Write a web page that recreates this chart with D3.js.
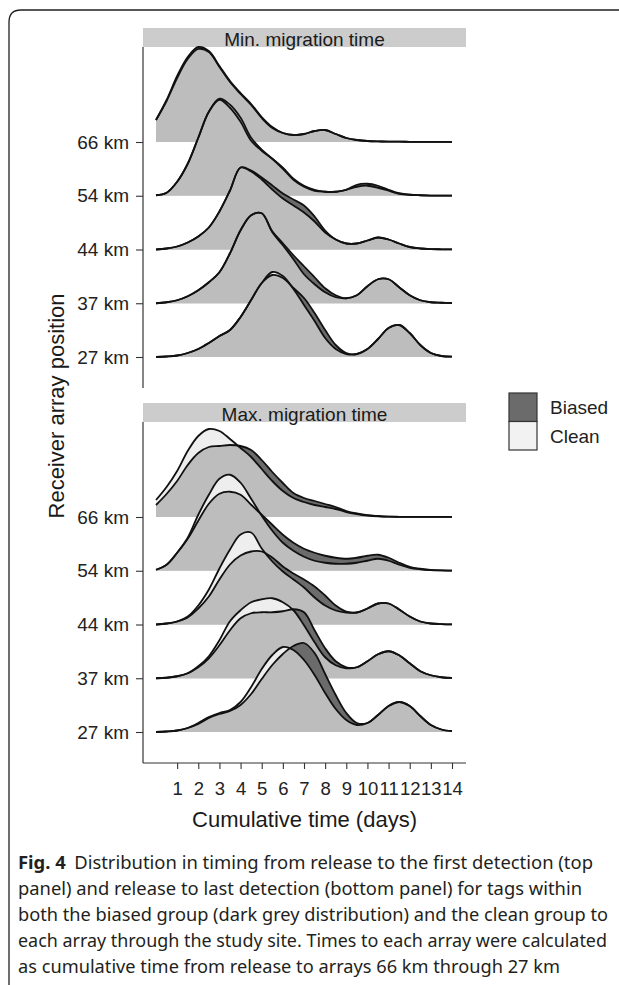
<!DOCTYPE html>
<html>
<head>
<meta charset="utf-8">
<script src="https://cdn.jsdelivr.net/npm/d3@7"></script>
<style>
  body { margin: 0; background: #fff; }
  svg { display: block; }
  text { font-family: "Liberation Sans", Arial, sans-serif; }
</style>
</head>
<body>
<div id="chart"></div>
<script>
// ---- data ----
var rows = ["66 km", "54 km", "44 km", "37 km", "27 km"];
var panels = ["Min. migration time", "Max. migration time"];
var groups = ["Biased", "Clean"];
var xTicks = [1, 2, 3, 4, 5, 6, 7, 8, 9, 10, 11, 12, 13, 14];

// density sampled every half day, 0 .. 14 days (relative units)
var dayGrid = [0, 0.5, 1, 1.5, 2, 2.5, 3, 3.5, 4, 4.5, 5, 5.5, 6, 6.5, 7,
               7.5, 8, 8.5, 9, 9.5, 10, 10.5, 11, 11.5, 12, 12.5, 13, 13.5, 14];

// top panel: release to first detection
var min66Biased = [22, 42, 66, 85, 95, 91, 76, 61, 49, 38, 25, 15, 9, 7, 8, 11, 12, 8, 4, 2, 1, 0.6, 0.4, 0.3, 0.2, 0.2, 0.1, 0.1, 0.1];
var min66Clean  = [22, 41, 64, 83, 93, 90, 75, 60, 48, 37, 24, 14, 9, 7, 8, 11, 12, 8, 4, 2, 1, 0.6, 0.4, 0.3, 0.2, 0.2, 0.1, 0.1, 0.1];
var min54Biased = [0.5, 3, 14, 32, 58, 84, 96, 88, 74, 55, 45, 37, 28, 17, 10, 6, 4, 4, 6, 11, 12, 10, 6, 2.5, 1, 0.5, 0.2, 0.1, 0.1];
var min54Clean  = [0.5, 3, 14, 32, 58, 84, 97, 91, 78, 58, 46, 37, 27, 16, 9, 5, 4, 4, 6, 9, 10, 8, 5, 2, 1, 0.5, 0.2, 0.1, 0.1];
var min44Biased = [0, 1, 3, 7, 13, 22, 38, 59, 82, 79, 72, 64, 56, 50, 44, 33, 19, 10, 6, 6, 9, 12, 10, 6, 2.5, 1, 0.4, 0.2, 0.1];
var min44Clean  = [0, 1, 3, 7, 13, 22, 38, 59, 82, 78, 70, 60, 51, 44, 37, 28, 17, 10, 6, 6, 9, 12, 10, 6, 2.5, 1, 0.4, 0.2, 0.1];
var min37Biased = [0, 1, 3, 7, 13, 21, 31, 50, 73, 88, 90, 72, 60, 48, 37, 26, 15, 8, 5, 8, 17, 24, 24, 16, 8, 3, 1, 0.5, 0.2];
var min37Clean  = [0, 1, 3, 7, 13, 21, 31, 50, 73, 88, 90, 71, 58, 44, 29, 19, 11, 6, 5, 8, 17, 24, 24, 16, 8, 3, 1, 0.5, 0.2];
var min27Biased = [0, 0.5, 1.5, 4, 8, 14, 21, 27, 40, 57, 74, 82, 79, 69, 59, 44, 27, 12, 4, 3, 8, 18, 29, 32, 24, 12, 4, 1, 0.3];
var min27Clean  = [0, 0.5, 1.5, 4, 8, 14, 21, 27, 40, 57, 74, 85, 81, 68, 52, 36, 19, 8, 3, 3, 8, 18, 29, 32, 24, 12, 4, 1, 0.3];

// bottom panel: release to last detection
var max66Biased = [12, 23, 36, 52, 64, 70, 71, 72, 71, 67, 57, 45, 34, 24, 19, 16, 13, 10, 6, 3.5, 1.8, 1, 0.4, 0.2, 0.1, 0.1, 0.1, 0.1, 0.1];
var max66Clean  = [17, 30, 46, 66, 81, 88, 86, 78, 69, 60, 48, 36, 26, 19, 15, 12, 10, 8, 5, 3, 1.5, 0.7, 0.3, 0.2, 0.1, 0.1, 0.1, 0.1, 0.1];
var max54Biased = [1, 6, 18, 32, 50, 67, 77, 79, 76, 66, 56, 46, 36, 28, 22, 18, 15, 13, 12, 13, 15, 16, 13, 8, 4, 2, 0.8, 0.3, 0.1];
var max54Clean  = [1, 6, 18, 33, 56, 76, 92, 96, 88, 72, 55, 40, 28, 20, 14, 10, 8, 7, 7, 8, 10, 12, 10, 6, 3, 1.5, 0.6, 0.3, 0.1];
var max44Biased = [0, 1, 3, 7, 16, 28, 45, 60, 69, 73, 73, 67, 58, 51, 45, 38, 29, 19, 13, 12, 16, 21, 21, 15, 8, 3, 1, 0.4, 0.1];
var max44Clean  = [0, 1, 3, 8, 19, 35, 56, 75, 90, 92, 76, 63, 53, 45, 37, 27, 19, 14, 12, 12, 16, 21, 21, 15, 8, 3, 1, 0.4, 0.1];
var max37Biased = [0, 0.5, 2, 5, 11, 20, 33, 48, 60, 65, 66, 66, 67, 69, 66, 48, 30, 17, 11, 11, 17, 24, 27, 23, 15, 7, 3, 1, 0.3];
var max37Clean  = [0, 0.5, 2, 5, 12, 22, 38, 57, 68, 76, 79, 80, 76, 68, 53, 36, 21, 13, 10, 11, 17, 24, 27, 23, 15, 7, 3, 1, 0.3];
var max27Biased = [0, 0.5, 1.5, 4, 8, 14, 18, 21, 27, 38, 53, 67, 78, 86, 89, 79, 58, 37, 19, 9, 9, 17, 26, 30, 26, 16, 7, 2.5, 0.8];
var max27Clean  = [0, 0.5, 1.5, 4, 9, 15, 19, 22, 30, 45, 63, 77, 85, 82, 72, 57, 39, 23, 12, 7, 9, 17, 26, 30, 26, 16, 7, 2.5, 0.8];

var captionLines = [
    "Distribution in timing from release to the first detection (top",
    "panel) and release to last detection (bottom panel) for tags within",
    "both the biased group (dark grey distribution) and the clean group to",
    "each array through the study site. Times to each array were calculated",
    "as cumulative time from release to arrays 66 km through 27 km"
];

// table: panel -> row -> [biased, clean]
var ridges = [
    [[min66Biased, min66Clean], [min54Biased, min54Clean], [min44Biased, min44Clean], [min37Biased, min37Clean], [min27Biased, min27Clean]],
    [[max66Biased, max66Clean], [max54Biased, max54Clean], [max44Biased, max44Clean], [max37Biased, max37Clean], [max27Biased, max27Clean]]
];

// ---- layout ----
var width = 619, height = 985;
var panelLeft = 143, panelRight = 466,
    panelTops = [47, 422], panelHeight = 341,
    stripHeight = 19;

var biasedColor = "#6b6b6b",
    cleanColor = "#eeeeee",
    overlapColor = "#bdbdbd",
    inkColor = "#222222";

var svg = d3.select("#chart")
    .append("svg")
    .attr("width", width)
    .attr("height", height);

var defs = svg.append("defs");

var x = d3.scaleLinear()
    .domain([0, 14])
    .range([156, 452]);

var y = d3.scalePoint()
    .domain(rows)
    .range([95, 95 + 4 * 53.75]);

// density units -> pixels above the baseline
var h = d3.scaleLinear()
    .domain([0, 100])
    .range([0, 100]);

// outer frame of the figure box
svg.append("path")
    .attr("d", "M9,985 L9,22 Q9,10 21,10 L619,10")
    .style("fill", "none")
    .style("stroke", "#231f20")
    .style("stroke-width", "1.3px");

panels.forEach(function (title, p) {
    var g = svg.append("g")
        .attr("transform", "translate(0," + panelTops[p] + ")");

    // facet strip
    g.append("rect")
        .attr("x", panelLeft)
        .attr("y", -stripHeight)
        .attr("width", panelRight - panelLeft)
        .attr("height", stripHeight)
        .style("fill", "#cccccc");

    g.append("text")
        .attr("x", (panelLeft + panelRight) / 2)
        .attr("y", -1.5)
        .attr("text-anchor", "middle")
        .style("font-size", "19px")
        .style("fill", "#1a1a1a")
        .text(title);

    // ridges, back row first
    rows.forEach(function (r, i) {
        var base = y(r),
            biased = ridges[p][i][0],
            clean = ridges[p][i][1];

        var area = d3.area()
            .x(function (d, k) { return x(dayGrid[k]); })
            .y0(base)
            .y1(function (d) { return Math.min(base, base - h(d)); })
            .curve(d3.curveCatmullRom.alpha(0.5));

        var line = d3.line()
            .x(function (d, k) { return x(dayGrid[k]); })
            .y(function (d) { return base - h(d); })
            .curve(d3.curveCatmullRom.alpha(0.5));

        // clip region = biased density, same user space as the panel group
        var clipId = "clip-" + p + "-" + i;
        defs.append("clipPath")
            .attr("id", clipId)
            .append("path")
            .attr("d", area(biased));

        g.append("path")
            .attr("d", area(biased))
            .style("fill", biasedColor);

        g.append("path")
            .attr("d", area(clean))
            .style("fill", cleanColor);

        // where both groups overlap
        g.append("path")
            .attr("clip-path", "url(#" + clipId + ")")
            .attr("d", area(clean))
            .style("fill", overlapColor);

        [biased, clean].forEach(function (vals) {
            g.append("path")
                .attr("d", line(vals))
                .style("fill", "none")
                .style("stroke", "#111")
                .style("stroke-width", "1.8px");
        });
    });

    // y axis
    var yAxis = g.append("g")
        .attr("transform", "translate(" + panelLeft + ",0)")
        .call(d3.axisLeft(y).tickSize(7).tickSizeOuter(0).tickPadding(7));
    yAxis.select(".domain").remove();
    yAxis.selectAll("line").style("stroke", "#333").style("stroke-width", "1.1px");
    yAxis.selectAll("text")
        .style("font-size", "19px")
        .style("font-family", "'Liberation Sans', Arial, sans-serif")
        .style("fill", inkColor);

    g.append("line")
        .attr("x1", panelLeft)
        .attr("x2", panelLeft)
        .attr("y1", 0)
        .attr("y2", panelHeight)
        .style("stroke", "#333")
        .style("stroke-width", "1.2px");
});

// x axis under the bottom panel
var axisY = panelTops[1] + panelHeight;
var xAxis = svg.append("g")
    .attr("transform", "translate(0," + axisY + ")")
    .call(d3.axisBottom(x).tickValues(xTicks).tickSize(6).tickSizeOuter(0).tickPadding(13));
xAxis.select(".domain").remove();
xAxis.selectAll("line").style("stroke", "#333").style("stroke-width", "1.1px");
xAxis.selectAll("text")
    .style("font-size", "18.5px")
    .style("font-family", "'Liberation Sans', Arial, sans-serif")
    .style("fill", inkColor);

svg.append("line")
    .attr("x1", panelLeft)
    .attr("x2", panelRight)
    .attr("y1", axisY)
    .attr("y2", axisY)
    .style("stroke", "#333")
    .style("stroke-width", "1.2px");

// axis titles
svg.append("text")
    .attr("x", (panelLeft + panelRight) / 2)
    .attr("y", 827)
    .attr("text-anchor", "middle")
    .style("font-size", "22px")
    .style("fill", "#1a1a1a")
    .text("Cumulative time (days)");

svg.append("text")
    .attr("transform", "translate(64,406) rotate(-90)")
    .attr("text-anchor", "middle")
    .style("font-size", "22px")
    .style("fill", "#1a1a1a")
    .text("Receiver array position");

// legend
var legend = svg.append("g");
groups.forEach(function (name, i) {
    legend.append("rect")
        .attr("x", 509)
        .attr("y", 393 + i * 28.5)
        .attr("width", 28)
        .attr("height", 28.5)
        .style("fill", name == "Biased" ? biasedColor : "#f2f2f2")
        .style("stroke", "#333")
        .style("stroke-width", "1.2px");

    legend.append("text")
        .attr("x", 550)
        .attr("y", 414 + i * 29)
        .style("font-size", "19px")
        .style("fill", inkColor)
        .text(name);
});

// caption
var captionEnds = [593, 582, 608, 607, 560],
    captionX = 18;
captionLines.forEach(function (txt, i) {
    var t = svg.append("text")
        .attr("x", captionX)
        .attr("y", 869 + i * 26)
        .attr("textLength", captionEnds[i] - captionX)
        .attr("lengthAdjust", "spacingAndGlyphs")
        .style("font-family", "'Noto Sans', 'Open Sans', sans-serif")
        .style("font-size", "17.5px")
        .style("fill", "#231f20");
    if (i == 0) {
        t.append("tspan").style("font-weight", "bold").text("Fig. 4");
        t.append("tspan").attr("dx", 8).text(txt);
    } else {
        t.text(txt);
    }
});
</script>
</body>
</html>
